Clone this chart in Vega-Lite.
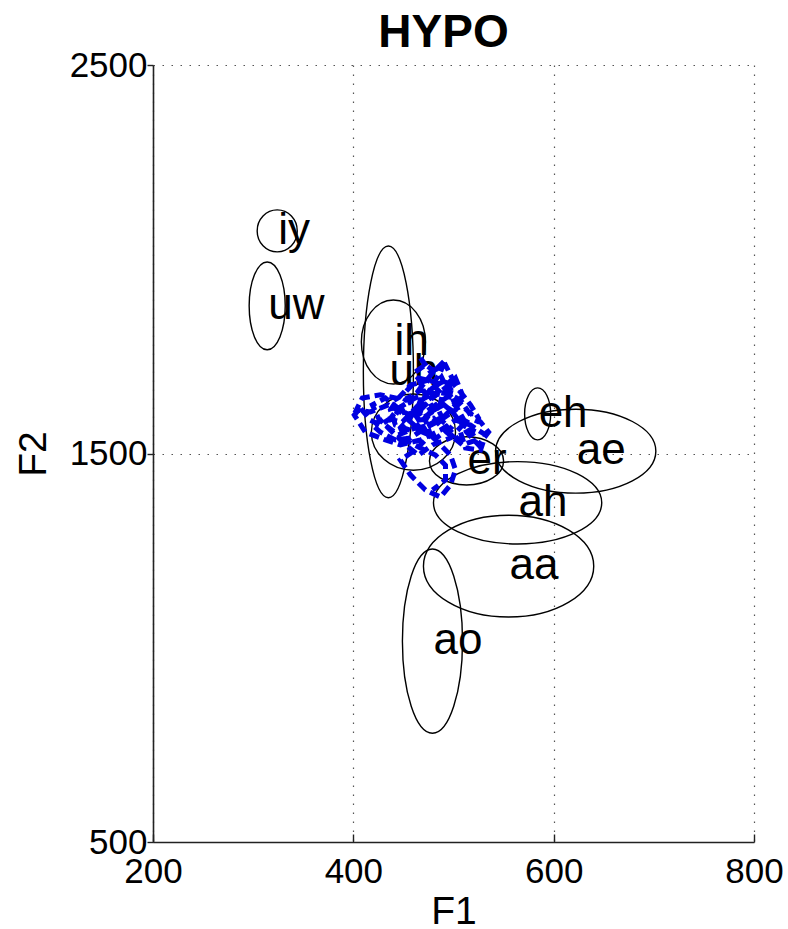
{
  "$schema": "https://vega.github.io/schema/vega-lite/v6.json",
  "autosize": {"type": "none"},
  "padding": {"left": 153, "top": 65, "right": 34, "bottom": 87},
  "width": 601,
  "height": 777,
  "background": "white",
  "title": {"text": "HYPO", "font": "Liberation Sans", "fontSize": 46, "fontWeight": "bold", "color": "black", "anchor": "middle", "dx": -10, "offset": -9},
  "config": {
    "view": {"stroke": null},
    "axis": {
      "labelFont": "Liberation Sans", "labelFontSize": 35, "labelColor": "black", "labelFlush": false, "format": "d",
      "titleFont": "Liberation Sans", "titleFontSize": 39, "titleColor": "black", "titleFontWeight": "normal",
      "domainColor": "#222", "domainWidth": 1.6,
      "tickColor": "#222", "tickWidth": 1.4,
      "grid": true, "gridColor": "#555", "gridDash": [1.5, 7.5], "gridWidth": 1.2, "gridOpacity": 1
    }
  },
  "datasets": {
    "ellipses": [
      {"vowel": "iy", "pt": 1, "F1": 344, "F2": 2073}, {"vowel": "iy", "pt": 2, "F1": 324, "F2": 2127}, {"vowel": "iy", "pt": 3, "F1": 304, "F2": 2073}, {"vowel": "iy", "pt": 4, "F1": 324, "F2": 2019},
      {"vowel": "uw", "pt": 1, "F1": 332, "F2": 1880}, {"vowel": "uw", "pt": 2, "F1": 314, "F2": 1993}, {"vowel": "uw", "pt": 3, "F1": 296, "F2": 1880}, {"vowel": "uw", "pt": 4, "F1": 314, "F2": 1767},
      {"vowel": "ih", "pt": 1, "F1": 472, "F2": 1787}, {"vowel": "ih", "pt": 2, "F1": 440, "F2": 1895}, {"vowel": "ih", "pt": 3, "F1": 408, "F2": 1787}, {"vowel": "ih", "pt": 4, "F1": 440, "F2": 1679},
      {"vowel": "uh", "pt": 1, "F1": 460, "F2": 1710}, {"vowel": "uh", "pt": 2, "F1": 435, "F2": 2034}, {"vowel": "uh", "pt": 3, "F1": 410, "F2": 1710}, {"vowel": "uh", "pt": 4, "F1": 435, "F2": 1386},
      {"vowel": "ax", "pt": 1, "F1": 502, "F2": 1555}, {"vowel": "ax", "pt": 2, "F1": 460, "F2": 1653}, {"vowel": "ax", "pt": 3, "F1": 418, "F2": 1555}, {"vowel": "ax", "pt": 4, "F1": 460, "F2": 1457},
      {"vowel": "eh", "pt": 1, "F1": 597, "F2": 1602}, {"vowel": "eh", "pt": 2, "F1": 584, "F2": 1669}, {"vowel": "eh", "pt": 3, "F1": 571, "F2": 1602}, {"vowel": "eh", "pt": 4, "F1": 584, "F2": 1535},
      {"vowel": "ae", "pt": 1, "F1": 702, "F2": 1506}, {"vowel": "ae", "pt": 2, "F1": 622, "F2": 1614}, {"vowel": "ae", "pt": 3, "F1": 542, "F2": 1506}, {"vowel": "ae", "pt": 4, "F1": 622, "F2": 1398},
      {"vowel": "er", "pt": 1, "F1": 550, "F2": 1481}, {"vowel": "er", "pt": 2, "F1": 513, "F2": 1543}, {"vowel": "er", "pt": 3, "F1": 476, "F2": 1481}, {"vowel": "er", "pt": 4, "F1": 513, "F2": 1419},
      {"vowel": "ah", "pt": 1, "F1": 648, "F2": 1373}, {"vowel": "ah", "pt": 2, "F1": 564, "F2": 1479}, {"vowel": "ah", "pt": 3, "F1": 480, "F2": 1373}, {"vowel": "ah", "pt": 4, "F1": 564, "F2": 1267},
      {"vowel": "aa", "pt": 1, "F1": 640, "F2": 1210}, {"vowel": "aa", "pt": 2, "F1": 555, "F2": 1341}, {"vowel": "aa", "pt": 3, "F1": 470, "F2": 1210}, {"vowel": "aa", "pt": 4, "F1": 555, "F2": 1079},
      {"vowel": "ao", "pt": 1, "F1": 509, "F2": 1017}, {"vowel": "ao", "pt": 2, "F1": 479, "F2": 1254}, {"vowel": "ao", "pt": 3, "F1": 449, "F2": 1017}, {"vowel": "ao", "pt": 4, "F1": 479, "F2": 780}
    ],
    "centers": [
      {"vowel": "iy", "F1": 324, "F2": 2073},
      {"vowel": "uw", "F1": 314, "F2": 1880},
      {"vowel": "ih", "F1": 440, "F2": 1787},
      {"vowel": "uh", "F1": 435, "F2": 1710},
      {"vowel": "eh", "F1": 584, "F2": 1602},
      {"vowel": "ae", "F1": 622, "F2": 1506},
      {"vowel": "er", "F1": 513, "F2": 1481},
      {"vowel": "ah", "F1": 564, "F2": 1373},
      {"vowel": "aa", "F1": 555, "F2": 1210},
      {"vowel": "ao", "F1": 479, "F2": 1017}
    ],
    "track": [
      {"step": 1, "F1": 467, "F2": 1746}, {"step": 2, "F1": 477, "F2": 1710}, {"step": 3, "F1": 492, "F2": 1728}, {"step": 4, "F1": 502, "F2": 1676},
      {"step": 5, "F1": 487, "F2": 1651}, {"step": 6, "F1": 467, "F2": 1663}, {"step": 7, "F1": 452, "F2": 1638}, {"step": 8, "F1": 442, "F2": 1599},
      {"step": 9, "F1": 427, "F2": 1573}, {"step": 10, "F1": 417, "F2": 1586}, {"step": 11, "F1": 407, "F2": 1617}, {"step": 12, "F1": 401, "F2": 1599},
      {"step": 13, "F1": 412, "F2": 1555}, {"step": 14, "F1": 432, "F2": 1535}, {"step": 15, "F1": 447, "F2": 1522}, {"step": 16, "F1": 467, "F2": 1535},
      {"step": 17, "F1": 487, "F2": 1560}, {"step": 18, "F1": 502, "F2": 1586}, {"step": 19, "F1": 517, "F2": 1573}, {"step": 20, "F1": 532, "F2": 1548},
      {"step": 21, "F1": 527, "F2": 1509}, {"step": 22, "F1": 512, "F2": 1514}, {"step": 23, "F1": 507, "F2": 1555}, {"step": 24, "F1": 517, "F2": 1599},
      {"step": 25, "F1": 507, "F2": 1638}, {"step": 26, "F1": 497, "F2": 1651}, {"step": 27, "F1": 482, "F2": 1625}, {"step": 28, "F1": 472, "F2": 1586},
      {"step": 29, "F1": 477, "F2": 1548}, {"step": 30, "F1": 462, "F2": 1509}, {"step": 31, "F1": 447, "F2": 1483}, {"step": 32, "F1": 457, "F2": 1445},
      {"step": 33, "F1": 472, "F2": 1406}, {"step": 34, "F1": 487, "F2": 1388}, {"step": 35, "F1": 497, "F2": 1419}, {"step": 36, "F1": 502, "F2": 1458},
      {"step": 37, "F1": 497, "F2": 1496}, {"step": 38, "F1": 487, "F2": 1522}, {"step": 39, "F1": 472, "F2": 1560}, {"step": 40, "F1": 462, "F2": 1599},
      {"step": 41, "F1": 467, "F2": 1638}, {"step": 42, "F1": 479, "F2": 1669}, {"step": 43, "F1": 495, "F2": 1694}, {"step": 44, "F1": 507, "F2": 1658},
      {"step": 45, "F1": 517, "F2": 1625}, {"step": 46, "F1": 525, "F2": 1591}, {"step": 47, "F1": 519, "F2": 1555}, {"step": 48, "F1": 505, "F2": 1535},
      {"step": 49, "F1": 492, "F2": 1573}, {"step": 50, "F1": 485, "F2": 1612}, {"step": 51, "F1": 489, "F2": 1651}, {"step": 52, "F1": 475, "F2": 1689},
      {"step": 53, "F1": 457, "F2": 1676}, {"step": 54, "F1": 445, "F2": 1643}, {"step": 55, "F1": 437, "F2": 1612}, {"step": 56, "F1": 442, "F2": 1573},
      {"step": 57, "F1": 457, "F2": 1560}, {"step": 58, "F1": 475, "F2": 1573}, {"step": 59, "F1": 492, "F2": 1599}, {"step": 60, "F1": 502, "F2": 1625},
      {"step": 61, "F1": 495, "F2": 1663}, {"step": 62, "F1": 482, "F2": 1684}, {"step": 63, "F1": 465, "F2": 1694}, {"step": 64, "F1": 452, "F2": 1658},
      {"step": 65, "F1": 459, "F2": 1617}, {"step": 66, "F1": 472, "F2": 1607}, {"step": 67, "F1": 487, "F2": 1633}, {"step": 68, "F1": 499, "F2": 1607},
      {"step": 69, "F1": 509, "F2": 1573}, {"step": 70, "F1": 497, "F2": 1540}, {"step": 71, "F1": 479, "F2": 1522}, {"step": 72, "F1": 465, "F2": 1496},
      {"step": 73, "F1": 452, "F2": 1522}, {"step": 74, "F1": 439, "F2": 1555}, {"step": 75, "F1": 425, "F2": 1591}, {"step": 76, "F1": 419, "F2": 1625},
      {"step": 77, "F1": 432, "F2": 1643}, {"step": 78, "F1": 447, "F2": 1612}, {"step": 79, "F1": 465, "F2": 1586}, {"step": 80, "F1": 480, "F2": 1591},
      {"step": 81, "F1": 493, "F2": 1555}, {"step": 82, "F1": 509, "F2": 1522}, {"step": 83, "F1": 523, "F2": 1535}, {"step": 84, "F1": 515, "F2": 1566},
      {"step": 85, "F1": 499, "F2": 1638}, {"step": 86, "F1": 487, "F2": 1702}, {"step": 87, "F1": 472, "F2": 1728}, {"step": 88, "F1": 462, "F2": 1710},
      {"step": 89, "F1": 472, "F2": 1651}, {"step": 90, "F1": 485, "F2": 1591}, {"step": 91, "F1": 497, "F2": 1566}, {"step": 92, "F1": 483, "F2": 1540},
      {"step": 93, "F1": 469, "F2": 1555}, {"step": 94, "F1": 455, "F2": 1586}, {"step": 95, "F1": 442, "F2": 1643}, {"step": 96, "F1": 427, "F2": 1651},
      {"step": 97, "F1": 409, "F2": 1643}, {"step": 98, "F1": 403, "F2": 1612}, {"step": 99, "F1": 417, "F2": 1607}, {"step": 100, "F1": 435, "F2": 1625},
      {"step": 101, "F1": 452, "F2": 1599}, {"step": 102, "F1": 467, "F2": 1612}, {"step": 103, "F1": 479, "F2": 1643}, {"step": 104, "F1": 492, "F2": 1669},
      {"step": 105, "F1": 502, "F2": 1694}, {"step": 106, "F1": 509, "F2": 1651}, {"step": 107, "F1": 502, "F2": 1612}, {"step": 108, "F1": 487, "F2": 1586},
      {"step": 109, "F1": 472, "F2": 1566}, {"step": 110, "F1": 457, "F2": 1540}, {"step": 111, "F1": 442, "F2": 1535}, {"step": 112, "F1": 427, "F2": 1555},
      {"step": 113, "F1": 419, "F2": 1573}, {"step": 114, "F1": 432, "F2": 1591}, {"step": 115, "F1": 449, "F2": 1581}, {"step": 116, "F1": 465, "F2": 1625},
      {"step": 117, "F1": 477, "F2": 1663}, {"step": 118, "F1": 487, "F2": 1689}, {"step": 119, "F1": 499, "F2": 1676}, {"step": 120, "F1": 495, "F2": 1638},
      {"step": 121, "F1": 482, "F2": 1612}, {"step": 122, "F1": 469, "F2": 1591}, {"step": 123, "F1": 457, "F2": 1633}, {"step": 124, "F1": 467, "F2": 1669},
      {"step": 125, "F1": 480, "F2": 1710}, {"step": 126, "F1": 492, "F2": 1741}, {"step": 127, "F1": 487, "F2": 1710}, {"step": 128, "F1": 475, "F2": 1658},
      {"step": 129, "F1": 462, "F2": 1643}, {"step": 130, "F1": 445, "F2": 1617}, {"step": 131, "F1": 432, "F2": 1573}, {"step": 132, "F1": 445, "F2": 1548},
      {"step": 133, "F1": 462, "F2": 1566}, {"step": 134, "F1": 477, "F2": 1607}, {"step": 135, "F1": 490, "F2": 1625}, {"step": 136, "F1": 505, "F2": 1599},
      {"step": 137, "F1": 513, "F2": 1555}, {"step": 138, "F1": 525, "F2": 1522}, {"step": 139, "F1": 535, "F2": 1555}, {"step": 140, "F1": 527, "F2": 1581},
      {"step": 141, "F1": 513, "F2": 1612}, {"step": 142, "F1": 499, "F2": 1651}, {"step": 143, "F1": 485, "F2": 1658}, {"step": 144, "F1": 472, "F2": 1633},
      {"step": 145, "F1": 459, "F2": 1599}, {"step": 146, "F1": 447, "F2": 1566}, {"step": 147, "F1": 452, "F2": 1535}, {"step": 148, "F1": 467, "F2": 1514},
      {"step": 149, "F1": 482, "F2": 1496}, {"step": 150, "F1": 492, "F2": 1470}, {"step": 151, "F1": 492, "F2": 1432}, {"step": 152, "F1": 479, "F2": 1406}
    ]
  },
  "encoding": {
    "x": {"field": "F1", "type": "quantitative", "title": "F1",
      "scale": {"domain": [200, 800], "nice": false, "zero": false},
      "axis": {"values": [200, 400, 600, 800], "tickSize": -8, "labelPadding": 20, "titlePadding": 3}},
    "y": {"field": "F2", "type": "quantitative", "title": "F2",
      "scale": {"domain": [500, 2500], "nice": false, "zero": false},
      "axis": {"values": [500, 1500, 2500], "tickSize": 6, "labelPadding": 0, "titlePadding": 16}}
  },
  "layer": [
    {
      "data": {"name": "ellipses"},
      "mark": {"type": "line", "interpolate": "cardinal-closed", "tension": -0.657, "color": "black", "strokeWidth": 1.4},
      "encoding": {"detail": {"field": "vowel"}, "order": {"field": "pt"}}
    },
    {
      "data": {"name": "centers"},
      "mark": {"type": "text", "align": "left", "baseline": "middle", "font": "Liberation Sans", "fontSize": 44, "color": "black", "dx": 1},
      "encoding": {"text": {"field": "vowel"}}
    },
    {
      "data": {"name": "track"},
      "mark": {"type": "line", "color": "#0000e0", "strokeWidth": 5, "strokeDash": [10, 5], "interpolate": "linear"},
      "encoding": {"order": {"field": "step"}}
    }
  ]
}
